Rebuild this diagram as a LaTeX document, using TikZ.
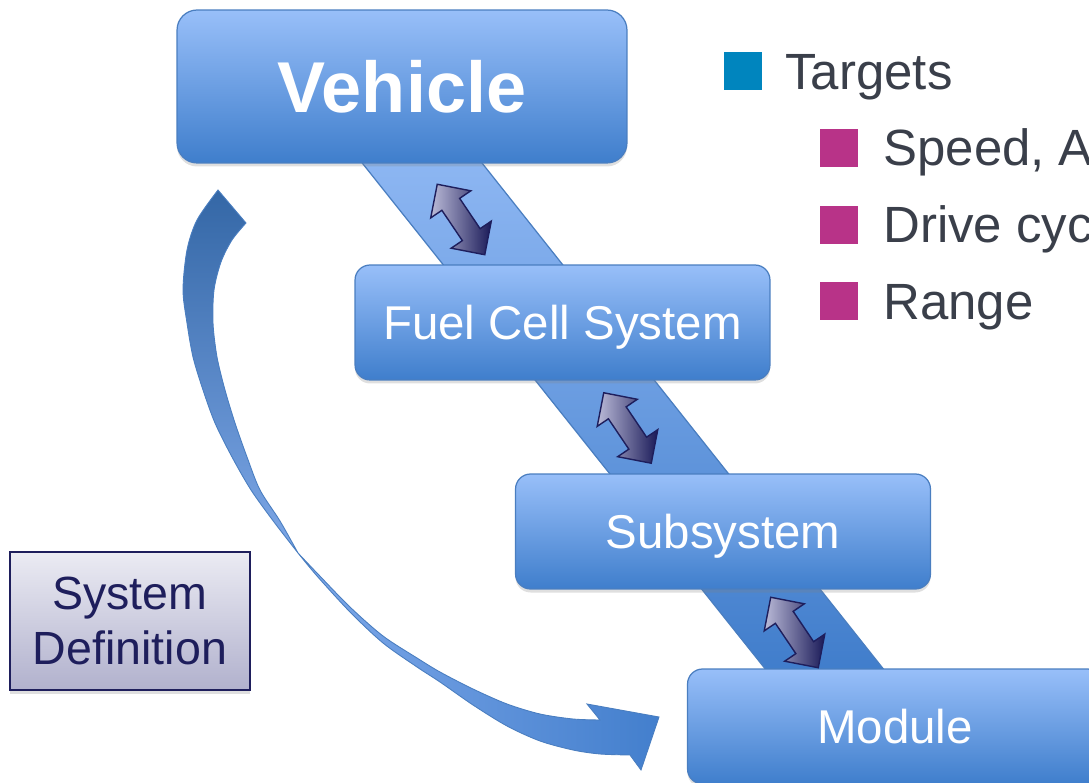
\documentclass[tikz,border=0pt]{standalone}
\usepackage{fontspec}
\setmainfont{Liberation Sans}
\usetikzlibrary{positioning, shapes.arrows, shadows}

\definecolor{boxtop}{HTML}{98BFF9}
\definecolor{boxbot}{HTML}{3F7ECC}
\definecolor{boxline}{HTML}{4A7EC0}
\definecolor{bandtop}{HTML}{96BDF7}
\definecolor{bandbot}{HTML}{3C7AC9}
\definecolor{curvtop}{HTML}{3467A6}
\definecolor{curvmid}{HTML}{7DA7E7}
\definecolor{curvlight}{HTML}{7EA8E9}
\definecolor{curvpale}{HTML}{8EB8F4}
\definecolor{curvdark}{HTML}{437FCD}
\definecolor{navy}{HTML}{1E1E5C}
\definecolor{lavtop}{HTML}{EBEBF3}
\definecolor{lavbot}{HTML}{B1B1CD}
\definecolor{arrlight}{HTML}{BBBBD8}
\definecolor{arrdark}{HTML}{1A1A58}
\definecolor{txtgray}{HTML}{3A3F4A}
\definecolor{bulteal}{HTML}{0085BE}
\definecolor{bulmag}{HTML}{B83388}

\begin{document}
\begin{tikzpicture}[
    x=0.02cm, y=-0.02cm,
    stage/.style={draw=boxline, line width=0.7pt, rounded corners=0.3cm,
        top color=boxtop, bottom color=boxbot, text=white,
        minimum width=8.3cm, minimum height=2.3cm, text depth=0pt,
        font=\fontsize{27}{30}\selectfont,
        drop shadow={opacity=0.25, shadow xshift=0pt, shadow yshift=-2pt}},
    dblarrow/.style={double arrow, draw=navy, line width=0.8pt,
        left color=arrlight, right color=arrdark,
        minimum height=1.7cm, minimum width=0.94cm,
        inner sep=0pt, inner ysep=0.2cm, double arrow head extend=0.27cm,
        rotate=-56},
    note/.style={draw=navy, line width=1pt, top color=lavtop, bottom color=lavbot,
        text=navy, align=center, minimum width=4.8cm, minimum height=2.76cm,
        font=\fontsize{26.5}{31}\selectfont,
        drop shadow={opacity=0.25, shadow xshift=0pt, shadow yshift=-2pt}},
    bulsq/.style={minimum size=0.76cm, inner sep=0pt},
    item/.style={anchor=base west, inner sep=0pt, text=txtgray,
        font=\fontsize{29}{34}\selectfont}
]
\clip (0,0) rectangle (1089,783);

% Return arrow
\shade[top color=curvtop, bottom color=curvmid, draw=boxline, line width=0.5pt]
    plot[smooth] coordinates {(218,190) (197,220) (187,250) (183,290) (187,323)
        (193,357) (203,390) (215,423) (232,457) (251,490) (274,522) (298,553)}
    -- plot[smooth] coordinates {(298,553) (280,521) (260,490) (247,457) (235,423)
        (225,390) (217,357) (213,323) (214,290) (221,262) (232,240) (246,223)}
    -- cycle;
\shade[left color=curvlight, middle color=curvpale, right color=curvdark,
       draw=boxline, line width=0.5pt]
    plot[smooth] coordinates {(298,553) (317,573) (350,607) (383,636) (417,658)
        (440,672) (473,689) (507,704) (540,714) (573,719) (600,720)}
    -- (587,704) -- (659,717) -- (641,770) -- (630,755)
    -- plot[smooth] coordinates {(630,755) (600,754) (573,750) (540,741) (507,726)
        (473,705) (440,682) (417,667) (383,643) (350,612) (317,576) (298,553)}
    -- cycle;

% Band
\shade[top color=bandtop, bottom color=bandbot, draw=boxline, line width=0.7pt]
    (312,100) -- (432,100) -- (908,700) -- (790,700) -- cycle;

% Nodes
\node (veh) [stage, minimum width=9cm, minimum height=3.06cm, rounded corners=0.4cm,
    font=\fontsize{41}{45}\selectfont\bfseries] at (402,86.5) {Vehicle};
\node (fcs) [stage] at (562.5,322.5) {Fuel Cell System};
\node (sub) [stage] at (723,531.5) {Subsystem};
\node (mod) [stage] at (895,726.5) {Module};

\node (sysdef) [note] at (130,621) {System\\Definition};

% Arrows
\node (a1) [dblarrow] at (461,219.5) {};
\node (a2) [dblarrow] at (627.5,428) {};
\node (a3) [dblarrow] at (794.5,632.5) {};

% Targets
\node (sq0) [bulsq, fill=bulteal] at (743,71) {};
\node (tgt) [item] at (785,90) {Targets};
\node (sq1) [bulsq, fill=bulmag] at (839,148) {};
\node (speed) [item] at (883,166) {Speed, A};
\node (sq2) [bulsq, fill=bulmag] at (839,225.5) {};
\node (drive) [item] at (883,243) {Drive cyc};
\node (sq3) [bulsq, fill=bulmag] at (839,301.5) {};
\node (range) [item] at (883,320) {Range};

\end{tikzpicture}
\end{document}
